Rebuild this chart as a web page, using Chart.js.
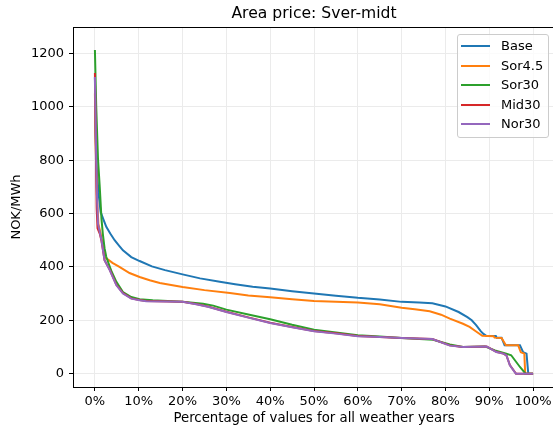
<!DOCTYPE html>
<html>
<head>
<meta charset="utf-8">
<script src="https://cdn.jsdelivr.net/npm/chart.js@4.4.1/dist/chart.umd.min.js"></script>
<style>
  body { margin: 0; overflow: hidden; background: #fff; font-family: "DejaVu Sans", sans-serif; }
  #wrap { position: relative; width: 553px; height: 430px; overflow: hidden; }
  canvas { display: block; }
  #legend { position: absolute; left: 457px; top: 34px; width: 90px; height: 102px;
            border: 1px solid #cccccc; border-radius: 3px; background: rgba(255,255,255,0.8); }
  .row { position: absolute; left: 0; height: 16px; font-size: 13px; line-height: 16px; color: #000; white-space: nowrap; }
  .row .swatch { position: absolute; left: 3px; top: 7px; width: 29px; height: 2px; }
  .row .label { position: absolute; left: 43px; top: 0; }
</style>
</head>
<body>
<div id="wrap">
  <canvas id="priceChart" width="560" height="430"></canvas>
  <div id="legend"></div>
</div>
<script>
// Area price duration curves, Sver-midt
const chartTitle = 'Area price: Sver-midt';
const seriesNames = ['Base', 'Sor4.5', 'Sor30', 'Mid30', 'Nor30'];
const seriesColors = ['#1f77b4', '#ff7f0e', '#2ca02c', '#d62728', '#9467bd'];

const xTicks = [0, 10, 20, 30, 40, 50, 60, 70, 80, 90, 100];
const yTicks = [0, 200, 400, 600, 800, 1000, 1200];

const baseX = [0, 0.15, 0.4, 0.8, 1.3, 2, 2.6, 3.5, 4.5, 5.5, 6.4, 8.3, 10.2, 13, 16, 20, 24, 28.5, 32, 36, 40, 45, 50, 55, 60, 65, 70, 74, 77, 80, 83, 85, 86, 87, 88, 88.6, 89.4, 91.5, 91.7, 92.8, 93.5, 97, 97.7, 98.5, 98.9, 100];
const baseY = [1110, 900, 780, 680, 606, 575, 550, 525, 500, 480, 462, 437, 422, 402, 388, 372, 357, 344, 335, 326, 319, 309, 300, 292, 284, 278, 269, 267, 264, 252, 231, 212, 200, 182, 160, 150, 141, 141, 135, 135, 106, 106, 81, 75, 0, 0];

const sor45X = [0, 0.2, 0.5, 0.8, 1.3, 1.8, 2.2, 3, 4, 5.6, 7.9, 10.2, 12.5, 14.8, 20, 25, 30.8, 35, 40, 45, 50, 55, 60, 65, 70, 73, 76.4, 79, 81, 84, 85.5, 87, 88.4, 91, 91.2, 92.8, 93.8, 96.6, 97.2, 98, 98.2, 100];
const sor45Y = [1050, 850, 650, 560, 525, 480, 437, 428, 415, 400, 377, 362, 350, 340, 325, 313, 302, 293, 286, 279, 272, 269, 267, 260, 247, 241, 234, 221, 206, 187, 175, 158, 142, 140, 135, 134, 106, 106, 80, 75, 0, 0];

const sor30X = [0, 0.3, 0.7, 1.1, 1.5, 1.8, 2.2, 2.6, 3.7, 4.9, 6.4, 8.3, 10.2, 13.2, 20, 24.7, 27, 30, 35, 40, 45, 50, 55, 60, 65, 70, 77.2, 81, 84, 89, 91.3, 93.9, 95, 97, 98.3, 100];
const sor30Y = [1213, 1000, 806, 700, 580, 525, 470, 437, 387, 344, 306, 287, 279, 275, 269, 262, 255, 240, 222, 204, 183, 165, 154, 144, 139, 134, 127, 109, 100, 102, 87, 75, 69, 25, 0, 0];

const mid30X = [0, 0.2, 0.4, 0.6, 1.1, 1.5, 2.2, 3.4, 4.9, 6.4, 8.3, 10.2, 11.7, 20, 23.1, 26, 30, 35, 40, 45, 50, 55, 60, 65, 70, 77, 81, 84, 89.4, 91.6, 93.2, 93.9, 94.7, 95.8, 96.1, 100];
const mid30Y = [1127, 850, 620, 545, 525, 498, 425, 389, 333, 302, 282, 276, 272, 269, 261, 251, 232, 211, 191, 175, 160, 151, 141, 137, 134, 130, 106, 100, 102, 82, 75, 69, 32, 7, 0, 0];

const nor30X = [0, 0.2, 0.4, 0.7, 1.1, 1.5, 2.2, 3.4, 4.9, 6.4, 8.3, 10.2, 11.7, 20, 23.1, 26, 30, 35, 40, 45, 50, 55, 60, 65, 70, 77, 81, 84, 89.4, 91.6, 93.2, 93.9, 94.7, 95.8, 96.1, 100];
const nor30Y = [1112, 900, 700, 562, 531, 500, 425, 387, 331, 300, 281, 275, 271, 269, 260, 250, 231, 210, 190, 174, 159, 150, 140, 137, 134, 130, 105, 100, 102, 81, 75, 69, 31, 6, 0, 0];

const seriesX = [baseX, sor45X, sor30X, mid30X, nor30X];
const seriesY = [baseY, sor45Y, sor30Y, mid30Y, nor30Y];

function toPoints(xs, ys) {
    return xs.map((x, i) => ({ x: x, y: ys[i] }));
}

const font = { family: '"DejaVu Sans", sans-serif', size: 13 };

// box round the plot area, and the title centred over it
const framePlugin = {
    id: 'frame',
    afterDraw(chart) {
        const a = chart.chartArea;
        const ctx = chart.ctx;
        ctx.save();
        ctx.strokeStyle = '#000';
        ctx.lineWidth = 1;
        ctx.strokeRect(a.left + 0.5, a.top + 0.5, a.right - a.left, a.bottom - a.top);
        ctx.fillStyle = '#000';
        ctx.font = '15.6px "DejaVu Sans", sans-serif';
        ctx.textAlign = 'center';
        ctx.textBaseline = 'alphabetic';
        ctx.fillText(chartTitle, (a.left + a.right) / 2, a.top - 9.5);
        ctx.restore();
    }
};

const ctx = document.getElementById('priceChart').getContext('2d');
new Chart(ctx, {
    type: 'line',
    data: {
        datasets: seriesNames.map((name, i) => ({
            label: name,
            data: toPoints(seriesX[i], seriesY[i]),
            borderColor: seriesColors[i],
            backgroundColor: seriesColors[i],
            borderWidth: 2,
            pointRadius: 0,
            tension: 0,
            fill: false,
            order: seriesNames.length - i
        }))
    },
    options: {
        responsive: false,
        animation: false,
        devicePixelRatio: 1,
        layout: { padding: { left: 0, right: 5, top: 27, bottom: 0 } },
        plugins: {
            legend: { display: false },
            tooltip: { enabled: false },
            title: { display: false }
        },
        scales: {
            x: {
                type: 'linear',
                min: -5,
                max: 105,
                afterFit(scale) { scale.height = 43; },
                afterBuildTicks(scale) { scale.ticks = xTicks.map(v => ({ value: v })); },
                ticks: {
                    color: '#000',
                    font: font,
                    padding: 3,
                    maxRotation: 0,
                    autoSkip: false,
                    callback: v => v + '%'
                },
                grid: { color: '#ebebeb', tickColor: '#000', tickLength: 4 },
                border: { color: '#000', width: 1 },
                title: {
                    display: true,
                    text: 'Percentage of values for all weather years',
                    color: '#000',
                    font: { family: font.family, size: 13.3 },
                    padding: { top: 0, bottom: 3 }
                }
            },
            y: {
                type: 'linear',
                min: -50,
                max: 1299,
                afterFit(scale) { scale.width = 73; },
                afterBuildTicks(scale) { scale.ticks = yTicks.map(v => ({ value: v })); },
                ticks: { color: '#000', font: font, padding: 5, callback: v => String(v) },
                grid: { color: '#ebebeb', tickColor: '#000', tickLength: 4 },
                border: { color: '#000', width: 1 },
                title: {
                    display: true,
                    text: 'NOK/MWh',
                    color: '#000',
                    font: font,
                    padding: { top: 9, bottom: 0 }
                }
            }
        }
    },
    plugins: [framePlugin]
});

// legend inside the plot, top right
const legend = document.getElementById('legend');
seriesNames.forEach((name, i) => {
    const row = document.createElement('div');
    row.className = 'row';
    row.style.top = (3 + i * 19.5) + 'px';
    const sw = document.createElement('div');
    sw.className = 'swatch';
    sw.style.background = seriesColors[i];
    const lb = document.createElement('div');
    lb.className = 'label';
    lb.textContent = name;
    row.appendChild(sw);
    row.appendChild(lb);
    legend.appendChild(row);
});
</script>
</body>
</html>
